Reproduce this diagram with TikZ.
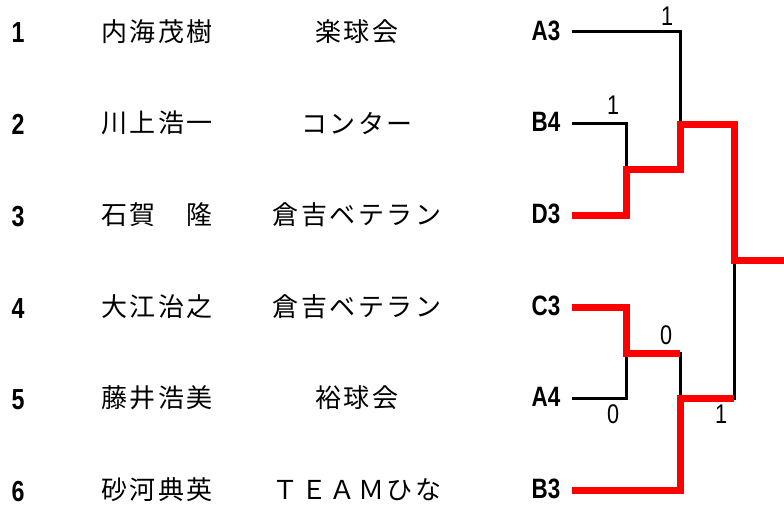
\documentclass[tikz,border=0pt]{standalone}
\usepackage{fontspec}
\newfontfamily\jpfont[LetterSpace=10]{Noto Sans CJK JP}
\newfontfamily\narrowfont[FakeStretch=0.8]{Liberation Sans}
\usepackage{tikz}

\begin{document}
\begin{tikzpicture}[x=1pt, y=-1pt,
  seedno/.style={anchor=base, font=\fontsize{29}{29}\narrowfont\bfseries\selectfont},
  player/.style={font=\fontsize{26}{26}\jpfont\selectfont},
  seed/.style={font=\fontsize{28}{28}\narrowfont\bfseries\selectfont},
  score/.style={font=\fontsize{27}{27}\narrowfont\selectfont},
  lose/.style={line width=3pt},
  win/.style={red, line width=7pt}
]
  \useasboundingbox (0,0) rectangle (784,511);

  \node[seedno] (n1) at (18,43)  {1}; \node[player] (p1) at (157,32)  {内海茂樹}; \node[player] (t1) at (357,32)  {楽球会};
  \node[seedno] (n2) at (18,134) {2}; \node[player] (p2) at (157,123) {川上浩一}; \node[player] (t2) at (357,123) {コンター};
  \node[seedno] (n3) at (18,226) {3}; \node[player] (p3) at (157,215) {石賀　隆}; \node[player] (t3) at (357,215) {倉吉ベテラン};
  \node[seedno] (n4) at (18,318) {4}; \node[player] (p4) at (157,307) {大江治之}; \node[player] (t4) at (357,307) {倉吉ベテラン};
  \node[seedno] (n5) at (18,409) {5}; \node[player] (p5) at (157,398) {藤井浩美}; \node[player] (t5) at (357,398) {裕球会};
  \node[seedno] (n6) at (18,501) {6}; \node[player] (p6) at (157,490) {砂河典英}; \node[player] (t6) at (357,490) {ＴＥＡＭひな};

  \node[seed] (a3) at (546,31)  {A3};
  \node[seed] (b4) at (546,122) {B4};
  \node[seed] (d3) at (546,214) {D3};
  \node[seed] (c3) at (546,306) {C3};
  \node[seed] (a4) at (546,397) {A4};
  \node[seed] (b3) at (546,489) {B3};

  \coordinate (e1) at (572,32);
  \coordinate (e2) at (572,123);
  \coordinate (e3) at (572,215);
  \coordinate (e4) at (572,307);
  \coordinate (e5) at (572,398);
  \coordinate (e6) at (572,490);
  \coordinate (q1) at (626,169);
  \coordinate (q2) at (626,353);
  \coordinate (s1) at (680,124);
  \coordinate (s2) at (680,398);
  \coordinate (fin) at (734,260);
  \coordinate (champ) at (784,260);

  \draw[lose] (e1) -| (s1);
  \draw[lose] (e2) -| (q1);
  \draw[lose] (e5) -| (q2);
  \draw[lose] (q2) -| (s2);
  \draw[lose] (s2) -| (fin);

  \draw[win] (e3) -| (q1) -| (s1) -| (fin) -- (champ);
  \draw[win] (e4) -| (q2) -- (q2 -| s2);
  \draw[win] (e6) -| (s2) -- (s2 -| fin);

  \node[score] (sc1) at (667,16)  {1};
  \node[score] (sc2) at (613,105) {1};
  \node[score] (sc3) at (666,335) {0};
  \node[score] (sc4) at (613,414) {0};
  \node[score] (sc5) at (721,414) {1};
\end{tikzpicture}
\end{document}
